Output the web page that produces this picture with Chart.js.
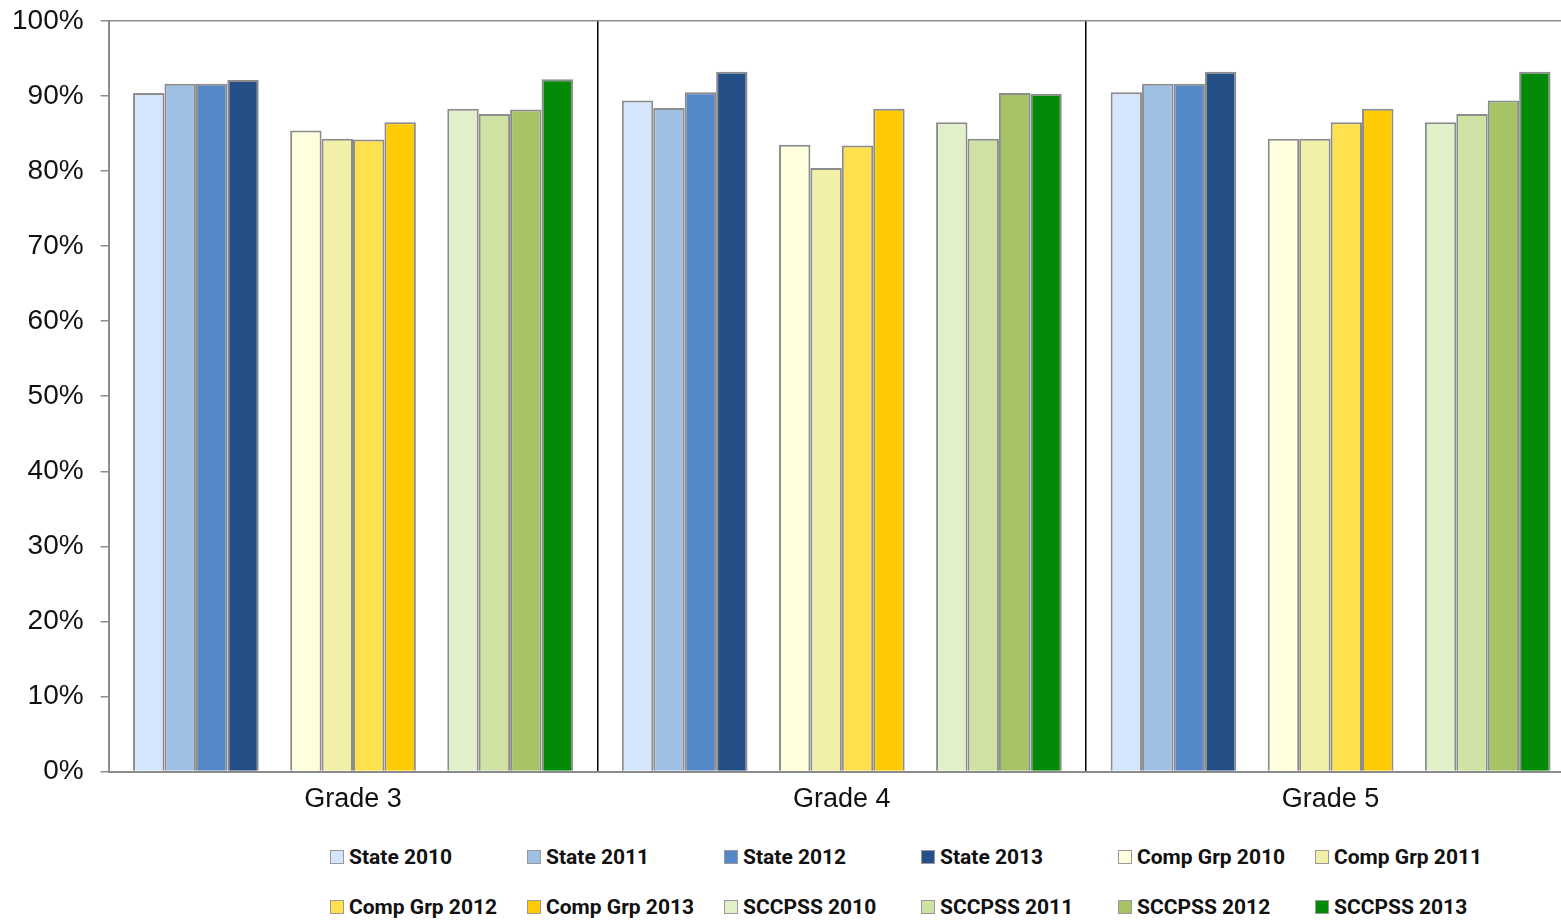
<!DOCTYPE html>
<html>
<head>
<meta charset="utf-8">
<script src="https://cdn.jsdelivr.net/npm/chart.js@4"></script>
<style>
  html, body { margin: 0; padding: 0; background: #fff; overflow: hidden; }
  #wrap { position: relative; width: 1575px; height: 843px; margin-top: -13px; }
  #legend {
    position: absolute; left: 330px; top: 845px;
    display: grid; grid-template-columns: repeat(6, 197px); row-gap: 26px;
    font-family: 'Liberation Sans Narrow', 'Roboto', sans-serif; font-weight: bold; font-size: 21px; color: #111;
  }
  .item { display: flex; align-items: center; height: 24px; white-space: nowrap; }
  .box { width: 14px; height: 14px; box-sizing: border-box; border: 1.5px solid #999; margin-right: 5px; }
</style>
</head>
<body>
<div id="wrap"><canvas id="chart" width="1575" height="843"></canvas></div>
<div id="legend"></div>
<script>
const grades = ['Grade 3', 'Grade 4', 'Grade 5'];
const yTicks = [0, 10, 20, 30, 40, 50, 60, 70, 80, 90, 100];

const state2010 = [90.4, 89.4, 90.5];
const state2011 = [91.6, 88.4, 91.6];
const state2012 = [91.6, 90.5, 91.6];
const state2013 = [92.1, 93.2, 93.2];
const comp2010 = [85.4, 83.5, 84.3];
const comp2011 = [84.3, 80.4, 84.3];
const comp2012 = [84.2, 83.4, 86.5];
const comp2013 = [86.5, 88.3, 88.3];
const sccpss2010 = [88.3, 86.5, 86.5];
const sccpss2011 = [87.6, 84.3, 87.6];
const sccpss2012 = [88.2, 90.4, 89.4];
const sccpss2013 = [92.2, 90.3, 93.2];

const series = [
  { label: 'State 2010', data: state2010, color: '#D5E5FC' },
  { label: 'State 2011', data: state2011, color: '#A0BFE4' },
  { label: 'State 2012', data: state2012, color: '#5488C8' },
  { label: 'State 2013', data: state2013, color: '#254F87' },
  null, // gap between groups
  { label: 'Comp Grp 2010', data: comp2010, color: '#FFFFDD' },
  { label: 'Comp Grp 2011', data: comp2011, color: '#F2EFA6' },
  { label: 'Comp Grp 2012', data: comp2012, color: '#FFE04F' },
  { label: 'Comp Grp 2013', data: comp2013, color: '#FFCB05' },
  null,
  { label: 'SCCPSS 2010', data: sccpss2010, color: '#E2F0CA' },
  { label: 'SCCPSS 2011', data: sccpss2011, color: '#D0E1A4' },
  { label: 'SCCPSS 2012', data: sccpss2012, color: '#A6C465' },
  { label: 'SCCPSS 2013', data: sccpss2013, color: '#038A07' }
];

const datasets = series.map(s => s ? {
  label: s.label,
  data: s.data,
  backgroundColor: s.color,
  borderColor: '#8c8c8c',
  borderWidth: 2,
  borderSkipped: 'bottom'
} : { label: '', data: [null, null, null] });

const ctx = document.getElementById('chart').getContext('2d');
const chart = new Chart(ctx, {
  type: 'bar',
  data: { labels: grades, datasets: datasets },
  options: {
    responsive: false,
    animation: false,
    layout: { padding: { top: 0, left: -5, right: 0, bottom: 2 } },
    categoryPercentage: 0.9,
    barPercentage: 1.0,
    plugins: {
      legend: { display: false },
      tooltip: { enabled: false }
    },
    scales: {
      x: {
        offset: true,
        grid: {
          offset: true,
          drawTicks: false,
          color: c => (c.index > 0 && c.index < grades.length) ? '#000' : 'transparent',
          lineWidth: 1.5
        },
        border: { color: '#8c8c8c', width: 2 },
        ticks: {
          color: '#111',
          padding: 12,
          font: { family: "'Liberation Sans', Arial, sans-serif", size: 27 }
        }
      },
      y: {
        min: 0,
        max: 100,
        afterBuildTicks: axis => { axis.ticks = yTicks.map(v => ({ value: v })); },
        grid: {
          color: c => c.tick && c.tick.value === 100 ? '#8c8c8c' : 'transparent',
          tickColor: '#8c8c8c',
          tickLength: 8,
          lineWidth: 1.5
        },
        border: { color: '#8c8c8c', width: 2 },
        ticks: {
          color: '#111',
          padding: 17,
          callback: v => v + '%',
          font: { family: "'Liberation Sans', Arial, sans-serif", size: 28 }
        }
      }
    }
  }
});

// legend in fixed columns, like the original
const legend = document.getElementById('legend');
series.filter(s => s).forEach(s => {
  const item = document.createElement('div');
  item.className = 'item';
  item.innerHTML = '<span class="box" style="background:' + s.color + '"></span>' + s.label;
  legend.appendChild(item);
});
</script>
</body>
</html>
